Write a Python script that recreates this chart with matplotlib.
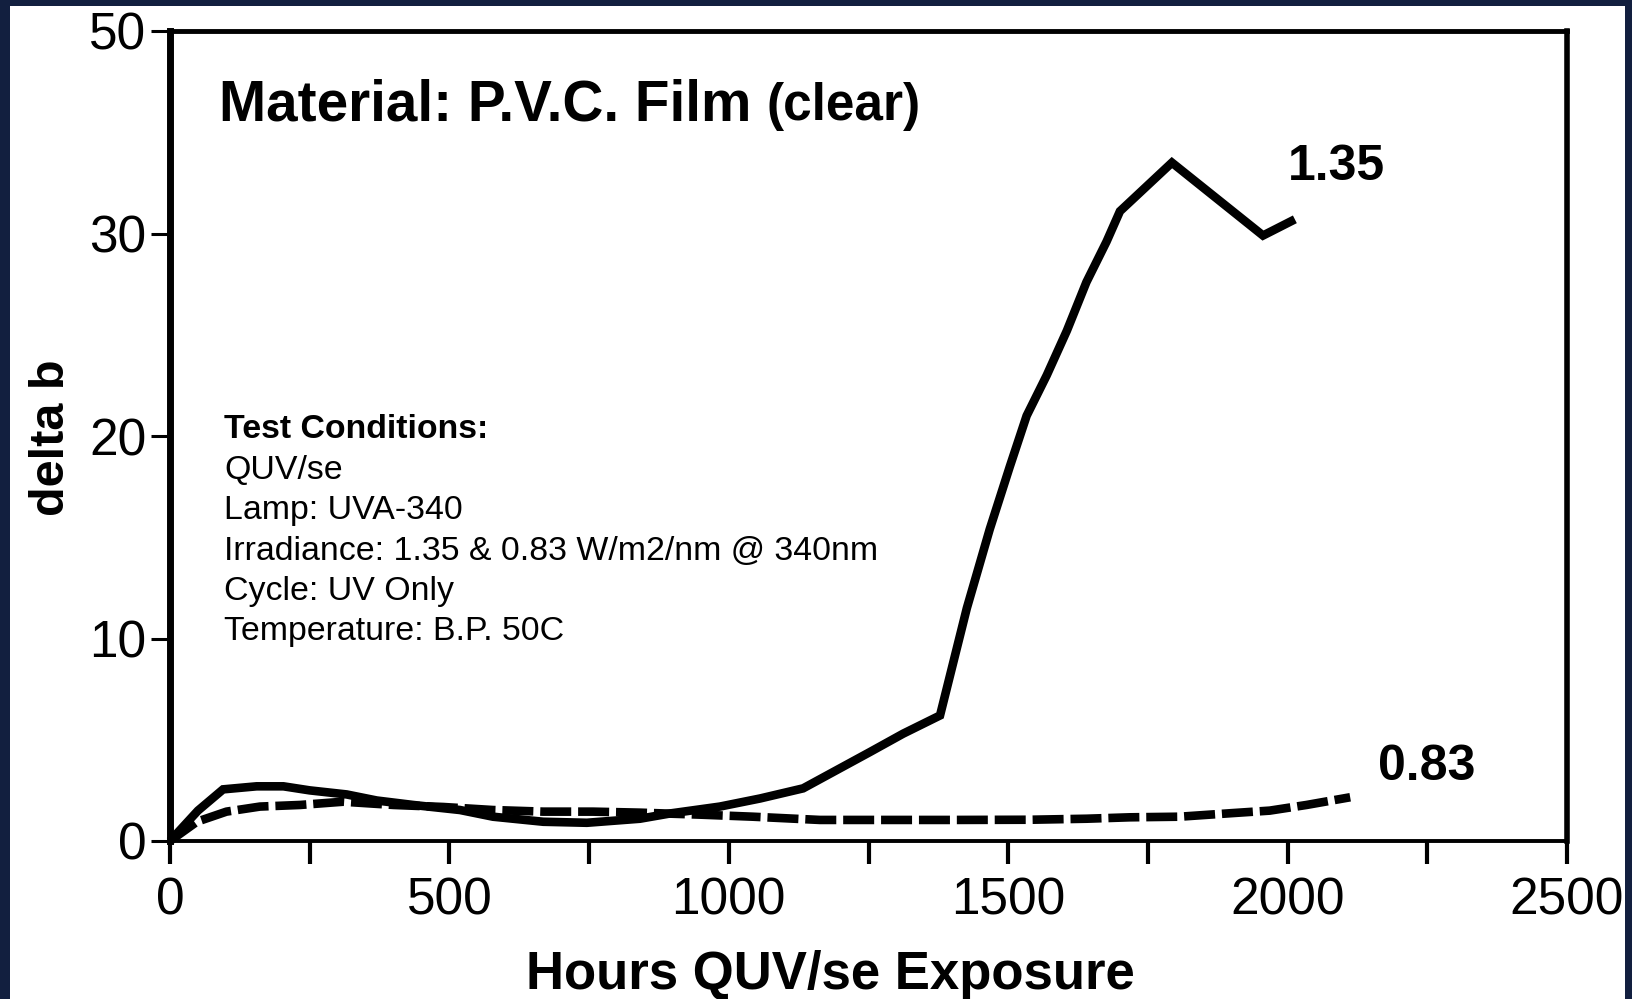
import matplotlib
matplotlib.use("Agg")
import matplotlib.pyplot as plt
from matplotlib.patches import Rectangle

plt.rcParams['font.family'] = ['Liberation Sans', 'DejaVu Sans']

# ---- data ----
hours_135 = [0, 50, 95, 155, 203, 250, 316, 370, 435, 519, 578, 668, 746, 841, 895, 984,
             1056, 1133, 1193, 1253, 1312, 1378, 1426, 1467, 1503, 1533, 1569, 1605,
             1640, 1676, 1700, 1793, 1956, 2013]
delta_b_135 = [0, 1.5, 2.55, 2.7, 2.7, 2.5, 2.3, 2.0, 1.78, 1.53, 1.2, 0.95, 0.9, 1.1, 1.36, 1.7,
               2.1, 2.6, 3.5, 4.4, 5.3, 6.2, 11.5, 15.4, 18.5, 21.0, 23.0, 25.2,
               27.6, 29.6, 31.1, 33.5, 29.9, 30.7]

hours_083 = [0, 48, 101, 161, 233, 310, 400, 489, 578, 668, 757, 841, 950, 1043, 1163,
             1300, 1401, 1540, 1640, 1718, 1807, 1897, 1968, 2034, 2112]
delta_b_083 = [0, 0.95, 1.45, 1.7, 1.78, 1.94, 1.78, 1.68, 1.53, 1.45, 1.45, 1.4, 1.3, 1.2, 1.04,
               1.04, 1.04, 1.05, 1.1, 1.17, 1.2, 1.37, 1.5, 1.78, 2.16]

x_major_ticks = [0, 500, 1000, 1500, 2000, 2500]
x_minor_ticks = [250, 750, 1250, 1750, 2250]
y_ticks = [0, 10, 20, 30, 40]
y_tick_labels = ["0", "10", "20", "30", "50"]

title_main = "Material: P.V.C. Film"
title_sub = "(clear)"
series_labels = ["1.35", "0.83"]
conditions_title = "Test Conditions:"
conditions = ["QUV/se", "Lamp: UVA-340", "Irradiance: 1.35 & 0.83 W/m2/nm @ 340nm",
              "Cycle: UV Only", "Temperature: B.P. 50C"]

NAVY = '#121f3f'

fig = plt.figure(figsize=(16.33, 9.99), dpi=100, facecolor=NAVY)
fig.patches.append(Rectangle((10 / 1633, 0), (1625 - 10) / 1633, (999 - 6) / 999,
                             transform=fig.transFigure, facecolor='white',
                             edgecolor='none', zorder=-10))
ax = fig.add_axes([170 / 1633, (999 - 841) / 999, (1567 - 170) / 1633, (841 - 31) / 999])
ax.set_facecolor('white')

ax.plot(hours_135, delta_b_135, color='black', lw=6.2, solid_joinstyle='miter',
        solid_capstyle='butt', clip_on=False)
l2, = ax.plot(hours_083, delta_b_083, color='black', lw=6.2, dash_capstyle='butt',
              clip_on=False)
l2.set_dashes([3.6, 0.8])

ax.set_xlim(0, 2500)
ax.set_ylim(0, 40)
ax.set_xticks(x_major_ticks)
ax.set_xticks(x_minor_ticks, minor=True)
ax.set_xticklabels([str(v) for v in x_major_ticks])
ax.set_yticks(y_ticks)
ax.set_yticklabels(y_tick_labels)

ax.tick_params(axis='x', which='both', direction='out', length=16.5, width=3,
               labelsize=37, pad=9, colors='black')
ax.tick_params(axis='y', which='both', direction='out', length=14, width=2.2,
               labelsize=37, pad=3, colors='black')

ax.spines['left'].set_linewidth(5)
ax.spines['top'].set_linewidth(3.5)
ax.spines['bottom'].set_linewidth(2.8)
ax.spines['right'].set_linewidth(4)
for s in ax.spines.values():
    s.set_color('black')

ax.set_ylabel("delta b", fontsize=35, fontweight='bold')
ax.yaxis.set_label_coords(-0.069, 0.4975)
ax.set_xlabel("Hours QUV/se Exposure", fontsize=38, fontweight='bold')
ax.xaxis.set_label_coords(0.473, -0.134)

ax.text(0.035, 0.890, title_main, transform=ax.transAxes, fontsize=40.8,
        fontweight='bold', va='baseline', ha='left')
ax.text(0.427, 0.890, title_sub, transform=ax.transAxes, fontsize=37,
        fontweight='bold', va='baseline', ha='left')

ax.text(0.800, 0.816, series_labels[0], transform=ax.transAxes, fontsize=36,
        fontweight='bold', va='baseline', ha='left')
ax.text(0.865, 0.0753, series_labels[1], transform=ax.transAxes, fontsize=36,
        fontweight='bold', va='baseline', ha='left')

y0 = 0.497
step = 40.4 / 810
ax.text(0.0387, y0, conditions_title, transform=ax.transAxes, fontsize=24.4,
        fontweight='bold', va='baseline', ha='left')
for i, line in enumerate(conditions):
    ax.text(0.0387, y0 - (i + 1) * step, line, transform=ax.transAxes, fontsize=24.4,
            va='baseline', ha='left')

# navy frame covering overflow like the reference
fig.patches.append(Rectangle((1625 / 1633, 0), 1 - 1625 / 1633, 1,
                             transform=fig.transFigure, facecolor=NAVY,
                             edgecolor='none', zorder=10))
fig.patches.append(Rectangle((0, 0), 10 / 1633, 1,
                             transform=fig.transFigure, facecolor=NAVY,
                             edgecolor='none', zorder=10))

fig.savefig("out.png", dpi=100, facecolor=NAVY)
